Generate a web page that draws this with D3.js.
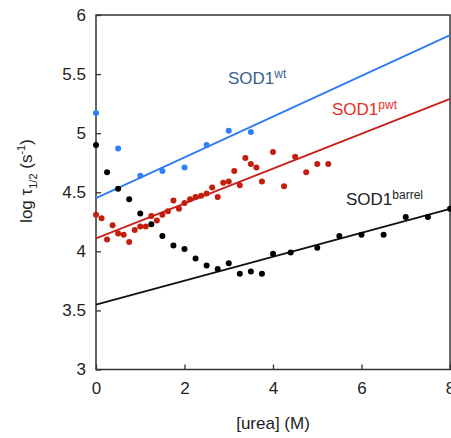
<!DOCTYPE html>
<html>
<head>
<meta charset="utf-8">
<script src="https://cdn.jsdelivr.net/npm/d3@7"></script>
<style>
  body { margin: 0; background: #fff; }
  svg { font-family: "Liberation Sans", Arial, sans-serif; }
</style>
</head>
<body>
<svg width="451" height="438"></svg>
<script>
// SOD1 wild type
var ureaWt = [0, 0.5, 1, 1.5, 2, 2.5, 3, 3.5];
var tauWt = [5.17, 4.87, 4.64, 4.68, 4.71, 4.90, 5.02, 5.01];

// SOD1 pwt
var ureaPwt = [0, 0.125, 0.25, 0.375, 0.5, 0.625, 0.75, 0.875, 1.0, 1.125, 1.25, 1.375,
  1.5, 1.625, 1.75, 1.875, 2.0, 2.125, 2.25, 2.375, 2.5, 2.625, 2.75, 2.875, 3.0,
  3.125, 3.25, 3.375, 3.5, 3.625, 3.75, 4.0, 4.25, 4.5, 4.75, 5.0, 5.25];
var tauPwt = [4.31, 4.28, 4.10, 4.22, 4.15, 4.14, 4.08, 4.18, 4.21, 4.21, 4.30, 4.26,
  4.31, 4.34, 4.43, 4.36, 4.41, 4.44, 4.46, 4.47, 4.49, 4.54, 4.46, 4.58, 4.59,
  4.68, 4.56, 4.79, 4.74, 4.71, 4.59, 4.84, 4.55, 4.80, 4.67, 4.74, 4.74];

// SOD1 barrel
var ureaBarrel = [0, 0.25, 0.5, 0.75, 1, 1.25, 1.5, 1.75, 2, 2.25, 2.5, 2.75, 3, 3.25,
  3.5, 3.75, 4, 4.4, 5, 5.5, 6, 6.5, 7, 7.5, 8];
var tauBarrel = [4.90, 4.67, 4.53, 4.44, 4.32, 4.23, 4.13, 4.05, 4.02, 3.94, 3.88, 3.85,
  3.90, 3.81, 3.83, 3.81, 3.98, 3.99, 4.03, 4.13, 4.14, 4.14, 4.29, 4.29, 4.36];

// fitted lines (ends at 0 and 8 M)
var fitX = [0, 8];
var fitWt = [4.45, 5.83];
var fitPwt = [4.11, 5.29];
var fitBarrel = [3.55, 4.36];

var xTicks = [0, 2, 4, 6, 8];
var yTicks = [3, 3.5, 4, 4.5, 5, 5.5, 6];

var svg = d3.select('svg');
var x = d3.scaleLinear().domain([0, 8]).range([96, 450]);
var y = d3.scaleLinear().domain([3, 6]).range([369.5, 15]);

// frame
svg.append('rect')
    .attr('x', 96).attr('y', 15)
    .attr('width', 354).attr('height', 354.5)
    .attr('fill', 'none')
    .attr('stroke', '#333')
    .attr('stroke-width', 1.5);

// axes with inward ticks
var xAxis = svg.append('g')
    .attr('transform', 'translate(0,369.5)')
    .call(d3.axisBottom(x).tickValues(xTicks).tickSizeInner(-5).tickSizeOuter(0).tickPadding(12));
var yAxis = svg.append('g')
    .attr('transform', 'translate(96,0)')
    .call(d3.axisLeft(y).tickValues(yTicks).tickSizeInner(-5).tickSizeOuter(0).tickPadding(10)
      .tickFormat(d3.format('')));
[xAxis, yAxis].forEach(function(g) {
  g.select('.domain').remove();
  g.selectAll('line').attr('stroke', '#333').attr('stroke-width', 1.3);
  g.selectAll('text').attr('font-size', 17).attr('fill', '#222')
    .attr('font-family', '"Liberation Sans", Arial, sans-serif');
});

// fit lines
var line = d3.line().x(d => x(d[0])).y(d => y(d[1]));
function drawFit(vals, color) {
  svg.append('path')
      .attr('d', line(d3.zip(fitX, vals)))
      .attr('fill', 'none')
      .attr('stroke', color)
      .attr('stroke-width', 1.8);
}
drawFit(fitWt, '#2f7bf5');
drawFit(fitPwt, '#c8201a');
drawFit(fitBarrel, '#111');

// points
function drawPoints(xs, ys, color) {
  svg.append('g').selectAll('circle')
    .data(d3.zip(xs, ys))
    .enter().append('circle')
      .attr('cx', d => x(d[0]))
      .attr('cy', d => y(d[1]))
      .attr('r', 3)
      .attr('fill', color);
}
drawPoints(ureaBarrel, tauBarrel, '#000');
drawPoints(ureaPwt, tauPwt, '#c41e0e');
drawPoints(ureaWt, tauWt, '#2f80ff');

// series labels
function label(px, py, sup, color) {
  var t = svg.append('text')
      .attr('x', px).attr('y', py)
      .attr('font-size', 17)
      .attr('fill', color);
  t.append('tspan').text('SOD1');
  t.append('tspan').attr('font-size', 12).attr('dy', -6).text(sup);
}
label(228, 84, 'wt', '#3a6090');
label(332, 115, 'pwt', '#e5301e');
label(346, 205, 'barrel', '#222');

// axis titles
svg.append('text')
    .attr('x', 273).attr('y', 429)
    .attr('text-anchor', 'middle')
    .attr('font-size', 17)
    .attr('fill', '#222')
    .text('[urea] (M)');

var yt = svg.append('text')
    .attr('transform', 'translate(32,181) rotate(-90)')
    .attr('text-anchor', 'middle')
    .attr('font-size', 17)
    .attr('fill', '#222');
yt.append('tspan').text('log \u03c4');
yt.append('tspan').attr('font-size', 11).attr('dy', 5).text('1/2');
yt.append('tspan').attr('dy', -5).text(' (s');
yt.append('tspan').attr('font-size', 11).attr('dy', -7).text('-1');
yt.append('tspan').attr('dy', 7).text(')');
</script>
</body>
</html>
